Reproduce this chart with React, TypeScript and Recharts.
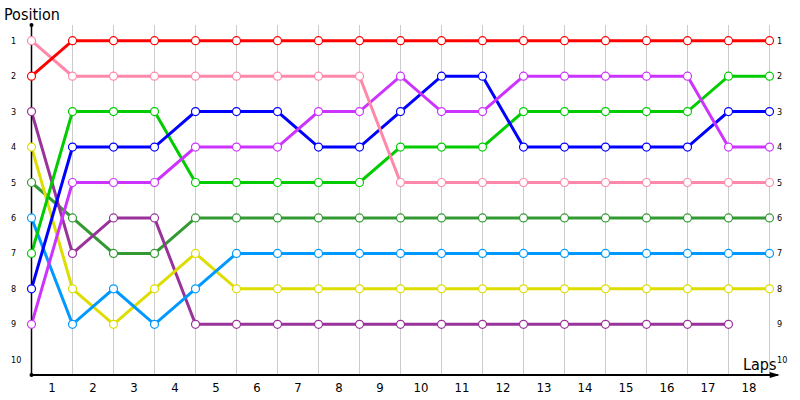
import React from "react";
import {
  LineChart,
  Line,
  XAxis,
  YAxis,
  CartesianGrid,
  ReferenceLine,
  ReferenceDot,
} from "recharts";

const laps = [0, 1, 2, 3, 4, 5, 6, 7, 8, 9, 10, 11, 12, 13, 14, 15, 16, 17, 18];

// position per lap, lap 0 = grid
const red = [2, 1, 1, 1, 1, 1, 1, 1, 1, 1, 1, 1, 1, 1, 1, 1, 1, 1, 1];
const pink = [1, 2, 2, 2, 2, 2, 2, 2, 2, 5, 5, 5, 5, 5, 5, 5, 5, 5, 5];
const green = [7, 3, 3, 3, 5, 5, 5, 5, 5, 4, 4, 4, 3, 3, 3, 3, 3, 2, 2];
const blue = [8, 4, 4, 4, 3, 3, 3, 4, 4, 3, 2, 2, 4, 4, 4, 4, 4, 3, 3];
const magenta = [9, 5, 5, 5, 4, 4, 4, 3, 3, 2, 3, 3, 2, 2, 2, 2, 2, 4, 4];
const darkGreen = [5, 6, 7, 7, 6, 6, 6, 6, 6, 6, 6, 6, 6, 6, 6, 6, 6, 6, 6];
const purple = [3, 7, 6, 6, 9, 9, 9, 9, 9, 9, 9, 9, 9, 9, 9, 9, 9, 9, null];
const yellow = [4, 8, 9, 8, 7, 8, 8, 8, 8, 8, 8, 8, 8, 8, 8, 8, 8, 8, 8];
const cyan = [6, 9, 8, 9, 8, 7, 7, 7, 7, 7, 7, 7, 7, 7, 7, 7, 7, 7, 7];

const lapTicks = [0.5, 1.5, 2.5, 3.5, 4.5, 5.5, 6.5, 7.5, 8.5, 9.5, 10.5, 11.5, 12.5, 13.5, 14.5, 15.5, 16.5, 17.5];
const positions = [1, 2, 3, 4, 5, 6, 7, 8, 9, 10];

// drawing order: later ones sit on top
const series = [
  { key: "darkGreen", values: darkGreen, color: "#339933" },
  { key: "purple", values: purple, color: "#993399" },
  { key: "yellow", values: yellow, color: "#dddd00" },
  { key: "cyan", values: cyan, color: "#0099ff" },
  { key: "green", values: green, color: "#00cc00" },
  { key: "blue", values: blue, color: "#0000ff" },
  { key: "magenta", values: magenta, color: "#cc33ff" },
  { key: "pink", values: pink, color: "#ff88aa" },
  { key: "red", values: red, color: "#ff0000" },
];

const data = laps.map((lap, i) => {
  const row: Record<string, number | null> = { lap };
  series.forEach((s) => {
    row[s.key] = s.values[i];
  });
  return row;
});

const FONT = "'DejaVu Sans Condensed', 'DejaVu Sans', sans-serif";
const Y_MIN = 0.557;
const Y_MAX = 10.43;

// position labels on both sides of the plot
const PosTick = (props: any) => {
  const { y, payload } = props;
  return (
    <g>
      <text x={11} y={y} dy={3} fontSize={9} fontFamily={FONT} fill="#000" textAnchor="start">
        {payload.value}
      </text>
      <text x={777} y={y} dy={3} fontSize={9} fontFamily={FONT} fill="#000" textAnchor="start">
        {payload.value}
      </text>
    </g>
  );
};

const ArrowLine = (props: any) => {
  const { x1, y1, x2, y2 } = props;
  return (
    <g>
      <line x1={x1} y1={y1} x2={x2} y2={y2} stroke="#000" strokeWidth={2} />
      <polygon points={`${x2 + 2},${y2} ${x2 - 8},${y2 - 3} ${x2 - 8},${y2 + 3}`} fill="#000" />
    </g>
  );
};

export default function App() {
  return (
    <div style={{ position: "absolute", left: 0, top: 0, width: 800, height: 400, background: "#fff" }}>
      <LineChart width={800} height={400} data={data} margin={{ top: 25, right: 30.5, bottom: 0, left: 0.5 }}>
        <CartesianGrid
          stroke="#cccccc"
          horizontalValues={positions}
          verticalValues={laps.slice(1)}
        />
        <XAxis
          dataKey="lap"
          type="number"
          domain={[0, 18]}
          ticks={lapTicks}
          tickFormatter={(v: number) => String(v + 0.5)}
          tickLine={false}
          axisLine={{ stroke: "#000", strokeWidth: 2 }}
          height={25}
          interval={0}
          tick={{ fontSize: 13, fontFamily: FONT, fill: "#000" }}
        />
        <YAxis
          yAxisId="left"
          type="number"
          reversed
          domain={[Y_MIN, Y_MAX]}
          ticks={positions}
          interval={0}
          width={31}
          tickLine={false}
          axisLine={{ stroke: "#000", strokeWidth: 1.5 }}
          tick={PosTick}
        />
        <ReferenceLine
          yAxisId="left"
          segment={[
            { x: 17.9, y: Y_MAX },
            { x: 18.2, y: Y_MAX },
          ]}
          ifOverflow="visible"
          shape={ArrowLine}
        />
        <ReferenceDot yAxisId="left" x={0} y={Y_MIN} r={2} fill="#000" stroke="none" ifOverflow="visible" />
        <ReferenceDot yAxisId="left" x={0} y={Y_MAX} r={2} fill="#000" stroke="none" ifOverflow="visible" />
        {series.map((s) => (
          <Line
            key={s.key}
            yAxisId="left"
            dataKey={s.key}
            type="linear"
            stroke={s.color}
            strokeWidth={3}
            dot={{ r: 4, fill: "#fff", stroke: s.color, strokeWidth: 1.2 }}
            activeDot={false}
            isAnimationActive={false}
          />
        ))}
      </LineChart>
      <div style={{ position: "absolute", left: 4, top: 5, fontFamily: FONT, fontSize: 16, color: "#000" }}>
        Position
      </div>
      <div style={{ position: "absolute", left: 743, top: 355, fontFamily: FONT, fontSize: 16, color: "#000" }}>
        Laps
      </div>
    </div>
  );
}
